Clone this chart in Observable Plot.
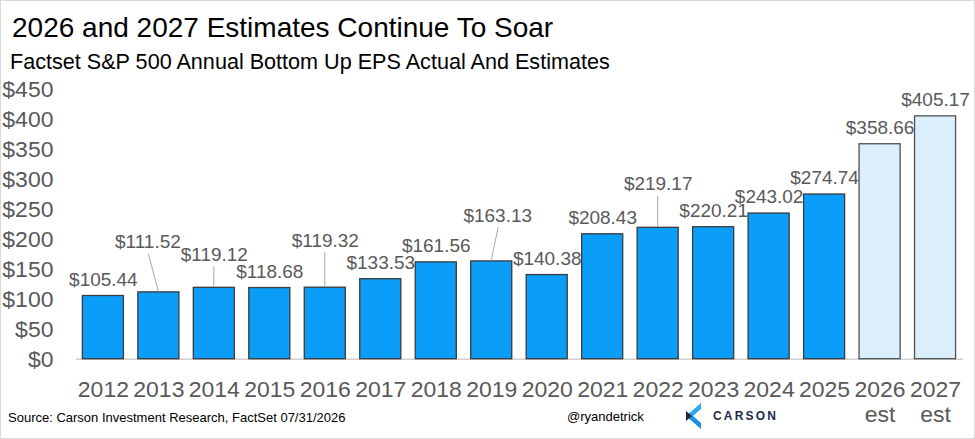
<!DOCTYPE html>
<html><head><meta charset="utf-8">
<script src="https://cdn.jsdelivr.net/npm/d3@7"></script>
<script src="https://cdn.jsdelivr.net/npm/@observablehq/plot@0.6"></script>
<style>
body{margin:0;background:#fff;}
#wrap{position:relative;width:975px;height:439px;box-sizing:border-box;border:1px solid #d9d9d9;overflow:hidden;font-family:"Liberation Sans",Arial,sans-serif;background:#fff;}
#title{position:absolute;left:11px;top:13px;font-size:28px;line-height:28px;color:#000;white-space:nowrap;}
#subtitle{position:absolute;left:9px;top:50px;font-size:21.6px;line-height:21px;color:#000;white-space:nowrap;}
#chart{position:absolute;left:-1px;top:74px;}
#source{position:absolute;left:7px;top:409px;font-size:13px;line-height:15px;color:#000;white-space:nowrap;}
#handle{position:absolute;left:566px;top:408px;font-size:13px;line-height:15px;color:#000;white-space:nowrap;}
#logo{position:absolute;left:685px;top:402px;display:flex;align-items:center;}
#logo span{font-size:12px;font-weight:bold;letter-spacing:2.2px;color:#1c2b4a;margin-left:11px;}
</style></head>
<body>
<div id="wrap">
  <div id="title">2026 and 2027 Estimates Continue To Soar</div>
  <div id="subtitle">Factset S&amp;P 500 Annual Bottom Up EPS Actual And Estimates</div>
  <div id="chart"></div>
  <div id="source">Source: Carson Investment Research, FactSet 07/31/2026</div>
  <div id="handle">@ryandetrick</div>
  <div id="logo"><svg width="16" height="26" viewBox="0 0 16 26"><polygon points="15,0 15,6 7,13 0,13" fill="#2ea8f2"/><polygon points="0,13 7,13 15,20 15,26" fill="#1b8fe0"/><polygon points="0,8 6,13 0,18" fill="#1c2b4a"/></svg><span>CARSON</span></div>
</div>
<script>
const years = ["2012","2013","2014","2015","2016","2017","2018","2019","2020","2021","2022","2023","2024","2025","2026","2027"];
const eps = [105.44, 111.52, 119.12, 118.68, 119.32, 133.53, 161.56, 163.13, 140.38, 208.43, 219.17, 220.21, 243.02, 274.74, 358.66, 405.17];
const estimateYears = ["2026","2027"];
const yTicks = [0, 50, 100, 150, 200, 250, 300, 350, 400, 450];

const data = years.map((year, i) => ({year, value: eps[i], est: estimateYears.includes(year)}));

// label placement for the crowded labels (pixel offsets from the bar top)
const leaders = [
  {year: "2013", dx: -11, dy: -50},
  {year: "2014", dx: 0, dy: -33},
  {year: "2016", dx: 0, dy: -47},
  {year: "2019", dx: 6, dy: -46},
  {year: "2022", dx: 0, dy: -43.5}
];
const leaderYears = leaders.map(l => l.year);

const fmt = v => "$" + v.toFixed(2);
const labelFont = 19, gray = "#595959";

function leaderLines(index, scales) {
  const x = scales.x, y = scales.y;
  const bw = x.bandwidth ? x.bandwidth() : 0;
  const g = d3.create("svg:g").attr("stroke", "#a6a6a6").attr("stroke-width", 1);
  for (const l of leaders) {
    const v = eps[years.indexOf(l.year)];
    const cx = x(l.year) + bw / 2, top = y(v);
    g.append("line")
      .attr("x1", cx + l.dx + (l.dx ? 1 : 0)).attr("y1", top + l.dy + 12)
      .attr("x2", cx).attr("y2", top - 0.5);
  }
  return g.node();
}

const marks = [
  Plot.ruleY([0], {stroke: "#d0d0d0", strokeWidth: 1.5, insetLeft: 8, insetRight: 7}),
  Plot.barY(data.filter(d => !d.est), {x: "year", y: "value", fill: "#0b9ef9", stroke: "#3a3a3a", strokeWidth: 1.3}),
  Plot.barY(data.filter(d => d.est), {x: "year", y: "value", fill: "#daeefc", stroke: "#505050", strokeWidth: 1.3}),
  Plot.axisY({ticks: yTicks, tickFormat: d => "$" + d, tickSize: 0, tickPadding: 15, fontSize: 23, color: gray, label: null}),
  Plot.axisX({tickSize: 0, tickPadding: 20, fontSize: 23, lineHeight: 1.1, color: gray, label: null,
    tickFormat: d => estimateYears.includes(d) ? d + "\nest" : d}),
  leaderLines,
  Plot.text(data.filter(d => !leaderYears.includes(d.year)), {x: "year", y: "value", text: d => fmt(d.value), dy: -16.5, fontSize: labelFont, fill: gray})
];
for (const l of leaders) {
  marks.push(Plot.text(data.filter(d => d.year === l.year), {x: "year", y: "value", text: d => fmt(d.value), dx: l.dx, dy: l.dy, fontSize: labelFont, fill: gray}));
}

const chart = Plot.plot({
  width: 975, height: 364,
  marginTop: 14, marginBottom: 80, marginLeft: 68, marginRight: 4,
  style: {fontFamily: "'Liberation Sans', Arial, sans-serif", background: "transparent", overflow: "visible"},
  x: {domain: years, padding: 0.26, round: false},
  y: {domain: [0, 450]},
  marks
});
document.getElementById("chart").append(chart);
</script>
</body></html>
